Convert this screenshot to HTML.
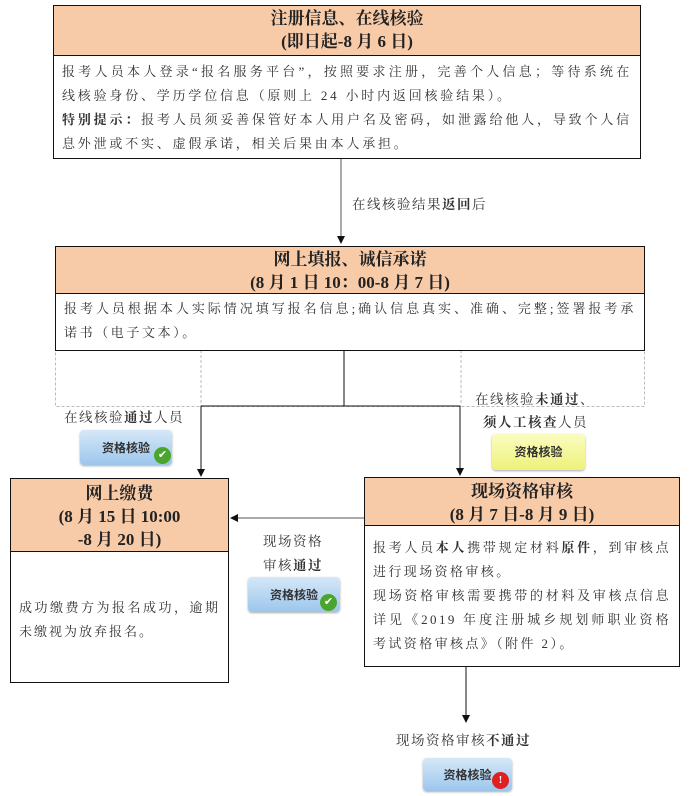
<!DOCTYPE html>
<html><head><meta charset="utf-8"><style>
body{margin:0;width:693px;height:796px;background:#fff;position:relative;overflow:hidden;font-family:"Liberation Serif","Noto Serif CJK SC",serif;color:#222}
.a{position:absolute;box-sizing:border-box}
.hd{background:#f8cba8;border:1.5px solid #111;text-align:center;font-weight:bold;font-size:17px;line-height:23px}
.bd{border:1.5px solid #111;background:#fff;font-size:13px;line-height:24px;padding:4px 8px;color:#333;text-align:justify;letter-spacing:2.3px}
.lbl{position:absolute;font-size:13.5px;color:#333;white-space:nowrap;letter-spacing:1.5px}
.bg{position:absolute;border-radius:4px;font-family:"Noto Sans CJK SC",sans-serif;font-size:12px;font-weight:bold;color:#333;text-align:center;box-shadow:0 1px 2px #aaa}
.blue{background:linear-gradient(#d5e8f8,#9cc6ec)}
.yel{background:linear-gradient(#fafcc0,#eef27a)}
.ic{position:absolute;width:17px;height:17px;border-radius:50%;color:#fff;font-size:11px;line-height:17px;text-align:center}
</style></head><body>
<svg class="a" style="left:0;top:0" width="693" height="796">
<defs><marker id="m" markerWidth="8" markerHeight="8" refX="7" refY="4" orient="auto" markerUnits="userSpaceOnUse"><path d="M0,0 L8,4 L0,8z" fill="#111"/></marker></defs>
<line x1="341" y1="158" x2="341" y2="243" stroke="#555" stroke-width="1" marker-end="url(#m)"/>
<rect x="55.5" y="350.5" width="589" height="56" fill="none" stroke="#bbb" stroke-dasharray="3,2"/>
<line x1="201" y1="350" x2="201" y2="406" stroke="#bbb" stroke-dasharray="3,2"/>
<line x1="461" y1="350" x2="461" y2="406" stroke="#bbb" stroke-dasharray="3,2"/>
<line x1="344" y1="350" x2="344" y2="406" stroke="#111"/>
<line x1="201" y1="406" x2="460" y2="406" stroke="#111"/>
<line x1="460" y1="406" x2="460" y2="475" stroke="#111" marker-end="url(#m)"/>
<line x1="201" y1="406" x2="201" y2="476" stroke="#111" marker-end="url(#m)"/>
<line x1="364" y1="518" x2="231" y2="518" stroke="#555" marker-end="url(#m)"/>
<line x1="466" y1="667" x2="466" y2="722" stroke="#111" marker-end="url(#m)"/>
</svg>

<div class="a hd" style="left:53px;top:5px;width:588px;height:51px;padding-top:1px">注册信息、在线核验<br>(即日起-8 月 6 日)</div>
<div class="a bd" style="left:53px;top:55px;width:588px;height:104px;padding-top:4px;letter-spacing:2.8px">报考人员本人登录“报名服务平台”，按照要求注册，完善个人信息；等待系统在线核验身份、学历学位信息（原则上 24 小时内返回核验结果）。<br><b>特别提示：</b>报考人员须妥善保管好本人用户名及密码，如泄露给他人，导致个人信息外泄或不实、虚假承诺，相关后果由本人承担。</div>
<div class="lbl" style="left:352px;top:193px">在线核验结果<b>返回</b>后</div>

<div class="a hd" style="left:55px;top:246px;width:590px;height:48px;padding-top:1px">网上填报、诚信承诺<br>(8 月 1 日 10：00-8 月 7 日)</div>
<div class="a bd" style="left:55px;top:293px;width:590px;height:58px;padding-top:3px;letter-spacing:2.6px">报考人员根据本人实际情况填写报名信息;确认信息真实、准确、完整;签署报考承诺书（电子文本）。</div>

<div class="lbl" style="left:64px;top:406px">在线核验<b>通过</b>人员</div>
<div class="bg blue" style="left:80px;top:430px;width:92px;height:35px;line-height:35px">资格核验</div>
<div class="ic" style="left:154px;top:447px;background:#4aa52c">✔</div>
<div class="lbl" style="left:475px;top:388px">在线核验<b>未通过</b>、</div>
<div class="lbl" style="left:483px;top:411px"><b>须人工核查</b>人员</div>
<div class="bg yel" style="left:492px;top:434px;width:93px;height:36px;line-height:36px">资格核验</div>

<div class="a hd" style="left:10px;top:478px;width:219px;height:74px;padding-top:3px;line-height:23px">网上缴费<br>(8 月 15 日 10:00<br>-8 月 20 日)</div>
<div class="a bd" style="left:10px;top:551px;width:219px;height:132px;padding-top:44px;letter-spacing:2px">成功缴费方为报名成功，逾期未缴视为放弃报名。</div>

<div class="lbl" style="left:263px;top:530px">现场资格</div>
<div class="lbl" style="left:263px;top:554px">审核<b>通过</b></div>
<div class="bg blue" style="left:248px;top:577px;width:92px;height:35px;line-height:35px">资格核验</div>
<div class="ic" style="left:320px;top:594px;background:#4aa52c">✔</div>

<div class="a hd" style="left:364px;top:477px;width:316px;height:49px;padding-top:2px">现场资格审核<br>(8 月 7 日-8 月 9 日)</div>
<div class="a bd" style="left:364px;top:525px;width:316px;height:142px;padding-top:10px;letter-spacing:2.4px">报考人员<b>本人</b>携带规定材料<b>原件</b>，到审核点进行现场资格审核。<br>现场资格审核需要携带的材料及审核点信息详见《2019 年度注册城乡规划师职业资格考试资格审核点》（附件 2）。</div>

<div class="lbl" style="left:396px;top:729px">现场资格审核<b>不通过</b></div>
<div class="bg blue" style="left:423px;top:758px;width:89px;height:33px;line-height:33px">资格核验</div>
<div class="ic" style="left:492px;top:772px;background:#e02020;font-weight:bold">!</div>
</body></html>
